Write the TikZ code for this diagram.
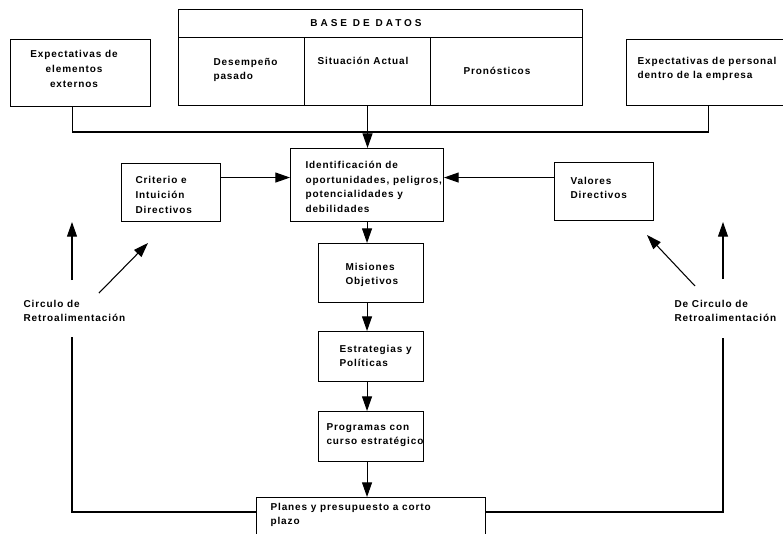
\documentclass[tikz,border=0pt]{standalone}
\usepackage{fontspec}
\usepackage{tikz}
\usetikzlibrary{arrows.meta,calc}
\newfontfamily\dfont{Liberation Sans}[LetterSpace=9]
\newfontfamily\hfont{Liberation Sans}[LetterSpace=30]

\begin{document}
\begin{tikzpicture}[x=0.75pt,y=0.75pt,yscale=-1,xscale=1,line width=0.8pt,
  box/.style={draw, anchor=north west, inner sep=0pt},
  txt/.style={anchor=west, align=left, inner sep=0pt, font=\dfont\bfseries\fontsize{7.5}{11}\selectfont},
  arr/.style={-{Triangle[length=11pt,width=7.5pt]}}]
\useasboundingbox (0,0) rectangle (783,533);

%Boxes
\node[box, minimum width=105pt, minimum height=50.25pt] (ext) at (10,39) {};
\node[box, minimum width=303pt, minimum height=21pt] (base) at (178,9) {};
\node[box, minimum width=94.5pt, minimum height=51pt] (desemp) at (178,37) {};
\node[box, minimum width=94.5pt, minimum height=51pt] (situ) at (304,37) {};
\node[box, minimum width=114pt, minimum height=51pt] (pron) at (430,37) {};
\node[box, minimum width=123pt, minimum height=49.5pt] (pers) at (626,39) {};
\node[box, minimum width=114.75pt, minimum height=54.75pt] (ident) at (290,148) {};
\node[box, minimum width=74.25pt, minimum height=43.5pt] (crit) at (121,163) {};
\node[box, minimum width=74.25pt, minimum height=43.5pt] (val) at (554,162) {};
\node[box, minimum width=78.75pt, minimum height=44.25pt] (mis) at (318,243) {};
\node[box, minimum width=78.75pt, minimum height=37.5pt] (estr) at (318,331) {};
\node[box, minimum width=78.75pt, minimum height=37.5pt] (prog) at (318,411) {};
\node[box, minimum width=171.75pt, minimum height=37.5pt] (plan) at (256,497) {};

% Text Node
\node[txt, anchor=center, align=center] (extt) at (74,69) {Expectativas de\\elementos\\externos};
\node[txt, anchor=center, font=\hfont\bfseries\fontsize{7.5}{11}\selectfont] (baset) at (366,23) {BASE DE DATOS};
\node[txt] (desempt) at (213,70) {Desempeño\\pasado};
\node[txt] (situt) at (317,61) {Situación Actual};
\node[txt] (pront) at (463,71) {Pronósticos};
\node[txt] (perst) at (637,69) {Expectativas de personal\\dentro de la empresa};
\node[txt] (identt) at (305,187) {Identificación de\\oportunidades, peligros,\\potencialidades y\\debilidades};
\node[txt] (critt) at (135,195) {Criterio e\\Intuición\\Directivos};
\node[txt] (valt) at (570,188) {Valores\\Directivos};
\node[txt] (mist) at (345,275) {Misiones\\Objetivos};
\node[txt] (estrt) at (339,356) {Estrategias y\\Políticas};
\node[txt] (progt) at (326,435) {Programas con\\curso estratégico};
\node[txt] (plant) at (270,515) {Planes y presupuesto a corto\\plazo};
\node[txt] (lfb) at (23,311) {Circulo de\\Retroalimentación};
\node[txt] (rfb) at (674,311) {De Circulo de\\Retroalimentación};

%Coordinates
\coordinate (jn) at (367,132);
\coordinate (extout) at ($(ext.south)+(-8,0)$);
\coordinate (critout) at ($(crit.east)+(0,-15)$);
\coordinate (valout) at ($(val.west)+(0,-14)$);
\coordinate (planl) at ($(plan.north west)+(0,15)$);
\coordinate (planr) at ($(plan.north east)+(0,15)$);
\coordinate (lb) at (72,337);
\coordinate (rb) at (723,338);
\coordinate (la1) at (72,280);
\coordinate (la2) at (72,222);
\coordinate (ld1) at (99,293);
\coordinate (ld2) at (148,243);
\coordinate (ra1) at (723,279);
\coordinate (ra2) at (723,222);
\coordinate (rd1) at (695,286);
\coordinate (rd2) at (647,235);

%Straight Lines
\draw (extout) |- (jn) -| (pers.south);
\draw[arr] (situ.south) -- (situ.south |- ident.north);
\draw[arr] (critout) -- (critout -| ident.west);
\draw[arr] (valout) -- (valout -| ident.east);
\draw[arr] (ident.south) -- (ident.south |- mis.north);
\draw[arr] (ident.south |- mis.south) -- (ident.south |- estr.north);
\draw[arr] (ident.south |- estr.south) -- (ident.south |- prog.north);
\draw[arr] (ident.south |- prog.south) -- (ident.south |- plan.north);
\draw (planl) -| (lb);
\draw (planr) -| (rb);
\draw[arr] (la1) -- (la2);
\draw[arr] (ld1) -- (ld2);
\draw[arr] (ra1) -- (ra2);
\draw[arr] (rd1) -- (rd2);

\end{tikzpicture}
\end{document}
